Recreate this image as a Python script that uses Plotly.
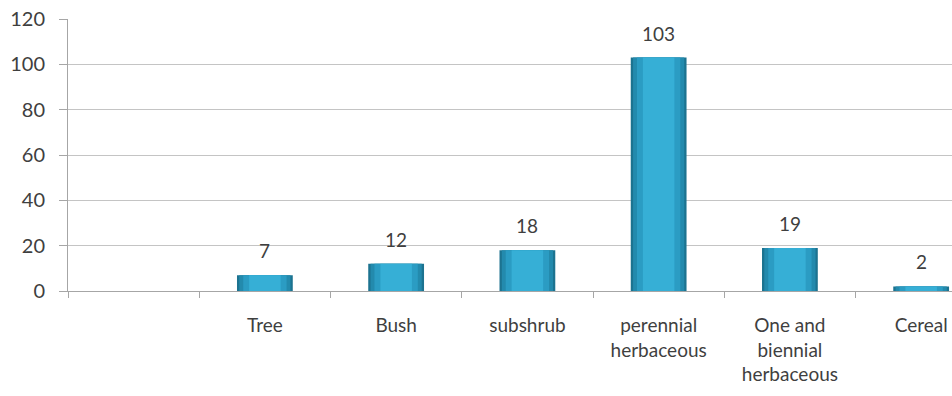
import plotly.graph_objects as go

categories = ["", "Tree", "Bush", "subshrub", "perennial<br>herbaceous", "One and<br>biennial<br>herbaceous", "Cereal"]
values = [None, 7, 12, 18, 103, 19, 2]
y_ticks = [0, 20, 40, 60, 80, 100, 120]

x_pos = list(range(len(categories)))
font_family = "Lato, Noto Sans, sans-serif"
text_color = "#3f3f3f"

fig = go.Figure()
# layered bars to imitate the cylindrical shading of the original
for w, col in [(0.425, "#1c7390"), (0.39, "#238aad"), (0.33, "#2b9cc3"), (0.24, "#36afd6")]:
    fig.add_trace(go.Bar(
        x=x_pos, y=values, width=w,
        marker=dict(color=col, line=dict(width=0)),
        hoverinfo="skip",
    ))

annotations = []
for xi, v in zip(x_pos, values):
    if v is None:
        continue
    annotations.append(dict(
        x=xi, y=v, xref="x", yref="y", text=str(v), showarrow=False,
        yanchor="bottom", yshift=11,
        font=dict(size=19, color=text_color, family=font_family),
    ))

fig.update_layout(
    width=952, height=396,
    margin=dict(l=68, r=0, t=19, b=105),
    paper_bgcolor="white", plot_bgcolor="white",
    showlegend=False, barmode="overlay",
    font=dict(family=font_family, size=19, color=text_color),
    annotations=annotations,
)
fig.update_xaxes(
    range=[-0.5, 6.235],
    tickmode="array", tickvals=x_pos, ticktext=categories,
    ticks="", showgrid=False,
    showline=True, linecolor="#a6a6a6", linewidth=1,
    tickfont=dict(size=19, color=text_color),
    ticklabelstandoff=17,
    minor=dict(tickmode="array", tickvals=[i + 0.5 for i in range(-1, 7)],
               ticks="outside", ticklen=6, tickcolor="#a6a6a6", showgrid=False),
    zeroline=False,
)
fig.update_yaxes(
    range=[0, 120], tickmode="array", tickvals=y_ticks,
    showgrid=True, gridcolor="#c4c4c4", gridwidth=1,
    showline=True, linecolor="#a6a6a6", linewidth=1,
    ticks="outside", ticklen=8, tickcolor="#a6a6a6",
    tickfont=dict(size=20, color=text_color),
    ticklabelstandoff=10,
    zeroline=False,
)

fig.write_html("out.html")
